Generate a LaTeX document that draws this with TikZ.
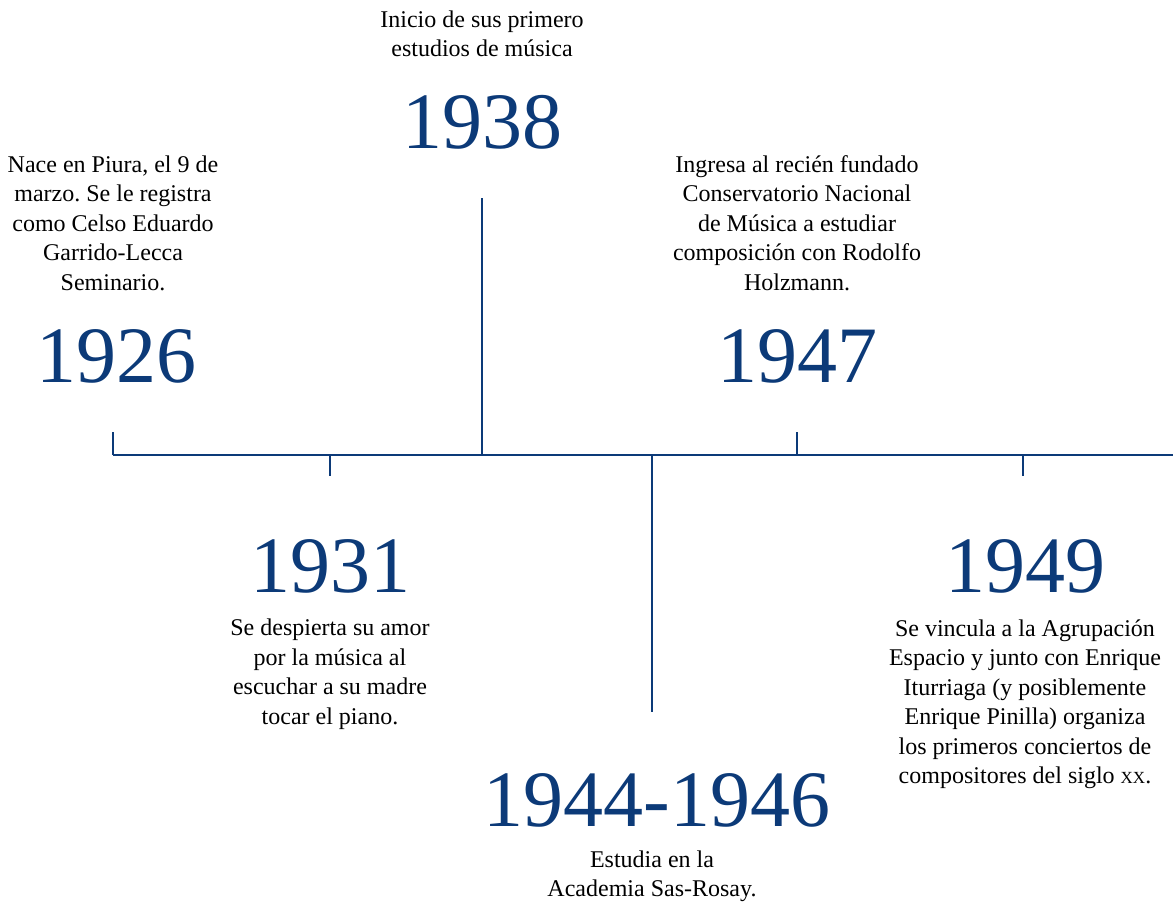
\documentclass[tikz,border=0pt]{standalone}
\usepackage{fontspec}
\setmainfont{Liberation Serif}
\usepackage{tikz}
\frenchspacing
\definecolor{yearblue}{RGB}{12,58,120}
\tikzset{
	year/.style={text=yearblue, font=\fontsize{80}{80}\selectfont, inner sep=0pt, anchor=base},
	event/.style={font=\fontsize{24}{29.5}\selectfont, align=center, inner sep=0pt},
	tick/.style={draw=yearblue, line width=1.6pt}
}
\newcommand{\smallxx}{{\fontsize{17}{17}\selectfont XX}}

\begin{document}
\begin{tikzpicture}[x=1pt, y=-1pt]

	\useasboundingbox (0,0) rectangle (1173,906);

	% points on the axis
	\coordinate (a1926) at (113,455);
	\coordinate (a1931) at (330,455);
	\coordinate (a1938) at (482,455);
	\coordinate (a1944) at (652,455);
	\coordinate (a1947) at (797,455);
	\coordinate (a1949) at (1023,455);
	\coordinate (aend) at (1173,455);

	% free ends of the ticks
	\coordinate (t1926) at (113,432);
	\coordinate (t1931) at (330,476);
	\coordinate (t1938) at (482,198);
	\coordinate (t1944) at (652,712);
	\coordinate (t1947) at (797,432);
	\coordinate (t1949) at (1023,476);

	% axis and ticks
	\draw[tick] (a1926) -- (aend);
	\draw[tick] (a1926) -- (t1926);
	\draw[tick] (a1931) -- (t1931);
	\draw[tick] (a1938) -- (t1938);
	\draw[tick] (a1944) -- (t1944);
	\draw[tick] (a1947) -- (t1947);
	\draw[tick] (a1949) -- (t1949);

	% years
	\node[year] (y1926) at (116,382) {1926};
	\node[year] (y1931) at (330,592) {1931};
	\node[year] (y1938) at (482,148) {1938};
	\node[year] (y1944) at (657,826) {1944-1946};
	\node[year] (y1947) at (797,382) {1947};
	\node[year] (y1949) at (1025,592) {1949};

	% events
	\node[event] (e1926) at (113,223) {Nace en Piura, el 9 de\\marzo. Se le registra\\como Celso Eduardo\\Garrido-Lecca\\Seminario.};
	\node[event] (e1931) at (330,674) {Se despierta su amor\\por la música al\\escuchar a su madre\\tocar el piano.};
	\node[event] (e1938) at (482,34) {Inicio de sus primero\\estudios de música};
	\node[event] (e1944) at (652,876) {Estudia en la\\Academia Sas-Rosay.};
	\node[event] (e1947) at (797,223) {Ingresa al recién fundado\\Conservatorio Nacional\\de Música a estudiar\\composición con Rodolfo\\Holzmann.};
	\node[event] (e1949) at (1025,704) {Se vincula a la Agrupación\\Espacio y junto con Enrique\\Iturriaga (y posiblemente\\Enrique Pinilla) organiza\\los primeros conciertos de\\compositores del siglo \smallxx.};

\end{tikzpicture}
\end{document}
